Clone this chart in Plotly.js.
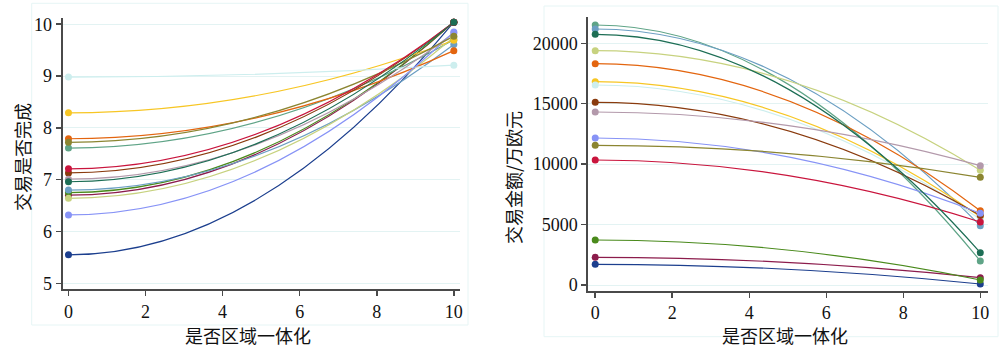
<!DOCTYPE html>
<html>
<head>
<meta charset="utf-8">
<script src="https://cdn.plot.ly/plotly-3.0.1.min.js"></script>
<style>html,body{margin:0;padding:0;background:#fff}#chart{width:1000px;height:357px}</style>
</head>
<body>
<div id="chart"></div>
<script>
// ---- data ----
const seriesNames = ['s1','s2','s3','s4','s5','s6','s7','s8','s9','s10','s11','s12','s13','s14','s15'];
const xEnds = [0, 10];
const leftStart = [5.55, 6.70, 6.75, 6.96, 7.61, 6.80, 6.64, 7.79, 8.29, 8.98, 7.13, 7.01, 6.32, 7.72, 7.21];
const leftEnd   = [10.04, 10.04, 10.04, 10.04, 9.70, 9.61, 9.75, 9.49, 9.69, 9.21, 10.04, 9.83, 9.85, 9.77, 10.04];
const rightStart = [1713, 2290, 3724, 20745, 21515, 21184, 19390, 18313, 16823, 16550, 15119, 14316, 12164, 11560, 10344];
const rightEnd   = [83, 604, 414, 2673, 1986, 4909, 9490, 6148, 5652, 5437, 5750, 9874, 5933, 8912, 5213];
const leftYTicks = [5, 6, 7, 8, 9, 10];
const rightYTicks = [0, 5000, 10000, 15000, 20000];
const xTicks = [0, 2, 4, 6, 8, 10];
const xTitle = '是否区域一体化';
const leftYTitle = '交易是否完成';
const rightYTitle = '交易金额/万欧元';

// ---- styles ----
const colors = ['#1c3f8e','#8c1c4c','#4a8a1c','#1d6e55','#5fa487','#6c9fc3','#c7d27f','#e3650f','#f7c624','#cdeeee','#8a3b0e','#b399ab','#8793f6','#8b8531','#c9153d'];
// draw dark green last so it sits on top where markers coincide
const drawOrder = [0,1,2,4,5,6,7,8,9,10,11,12,13,14,3];

const traces = [];
const shapes = [];
function addPanel(starts, ends, xa, ya) {
  drawOrder.forEach(i => {
    const a = starts[i], b = ends[i];
    shapes.push({
      type: 'path', xref: xa, yref: ya, layer: 'between',
      path: 'M ' + xEnds[0] + ',' + a + ' Q ' + ((xEnds[0] + xEnds[1]) / 2) + ',' + a + ' ' + xEnds[1] + ',' + b,
      line: {color: colors[i], width: 1.2}
    });
  });
  drawOrder.forEach(i => {
    traces.push({
      type: 'scatter', mode: 'markers', name: seriesNames[i],
      x: xEnds, y: [starts[i], ends[i]],
      xaxis: xa, yaxis: ya,
      marker: {color: colors[i], size: 7},
      showlegend: false, hoverinfo: 'x+y'
    });
  });
}
addPanel(leftStart, leftEnd, 'x', 'y');
addPanel(rightStart, rightEnd, 'x2', 'y2');

// faint outer frames
shapes.push({type:'rect', xref:'paper', yref:'paper', x0:0.0317, x1:0.468, y0:1-325/357, y1:1-3.3/357, line:{color:'#e6f5f5', width:1}, layer:'below'});
shapes.push({type:'rect', xref:'paper', yref:'paper', x0:0.544, x1:0.998, y0:1-336.7/357, y1:1-6/357, line:{color:'#e6f5f5', width:1}, layer:'below'});

const tickFont = {family: '"Liberation Serif", "Times New Roman", serif', size: 18, color: '#111'};
const axisCommon = {
  showline: true, linecolor: '#4a4a4a', linewidth: 2,
  ticks: 'outside', ticklen: 5, tickwidth: 1.5, tickcolor: '#4a4a4a',
  tickfont: tickFont, zeroline: false
};
const gridColor = '#e3f3f3';

const titleFont = {family: '"Noto Sans CJK SC", sans-serif', size: 18, color: '#111'};

const layout = {
  width: 1000, height: 357,
  margin: {l: 0, r: 0, t: 0, b: 0},
  paper_bgcolor: '#ffffff', plot_bgcolor: 'rgba(0,0,0,0)',
  showlegend: false,
  xaxis: Object.assign({}, axisCommon, {domain: [0.0627, 0.460], range: [-0.15, 10.16], tickvals: xTicks, showgrid: false, anchor: 'y'}),
  yaxis: Object.assign({}, axisCommon, {domain: [1-289/357, 1-18/357], range: [4.89, 10.12], tickvals: leftYTicks, showgrid: true, gridcolor: gridColor, gridwidth: 1, anchor: 'x'}),
  xaxis2: Object.assign({}, axisCommon, {domain: [0.5883, 0.988], range: [-0.18, 10.2], tickvals: xTicks, showgrid: false, anchor: 'y2'}),
  yaxis2: Object.assign({}, axisCommon, {domain: [1-290.7/357, 1-17.3/357], range: [-470, 22150], tickvals: rightYTicks, tickformat: 'd', showgrid: true, gridcolor: gridColor, gridwidth: 1, anchor: 'x2'}),
  shapes: shapes,
  annotations: [
    {text: xTitle, xref: 'paper', yref: 'paper', x: 248/1000, y: 1-335/357, xanchor: 'center', yanchor: 'middle', showarrow: false, font: titleFont},
    {text: xTitle, xref: 'paper', yref: 'paper', x: 785/1000, y: 1-335/357, xanchor: 'center', yanchor: 'middle', showarrow: false, font: titleFont},
    {text: leftYTitle, xref: 'paper', yref: 'paper', x: 22/1000, y: 1-157/357, xanchor: 'center', yanchor: 'middle', textangle: -90, showarrow: false, font: titleFont},
    {text: rightYTitle, xref: 'paper', yref: 'paper', x: 513/1000, y: 1-178/357, xanchor: 'center', yanchor: 'middle', textangle: -90, showarrow: false, font: titleFont}
  ]
};

Plotly.newPlot('chart', traces, layout, {displayModeBar: false, staticPlot: true});
</script>
</body>
</html>
